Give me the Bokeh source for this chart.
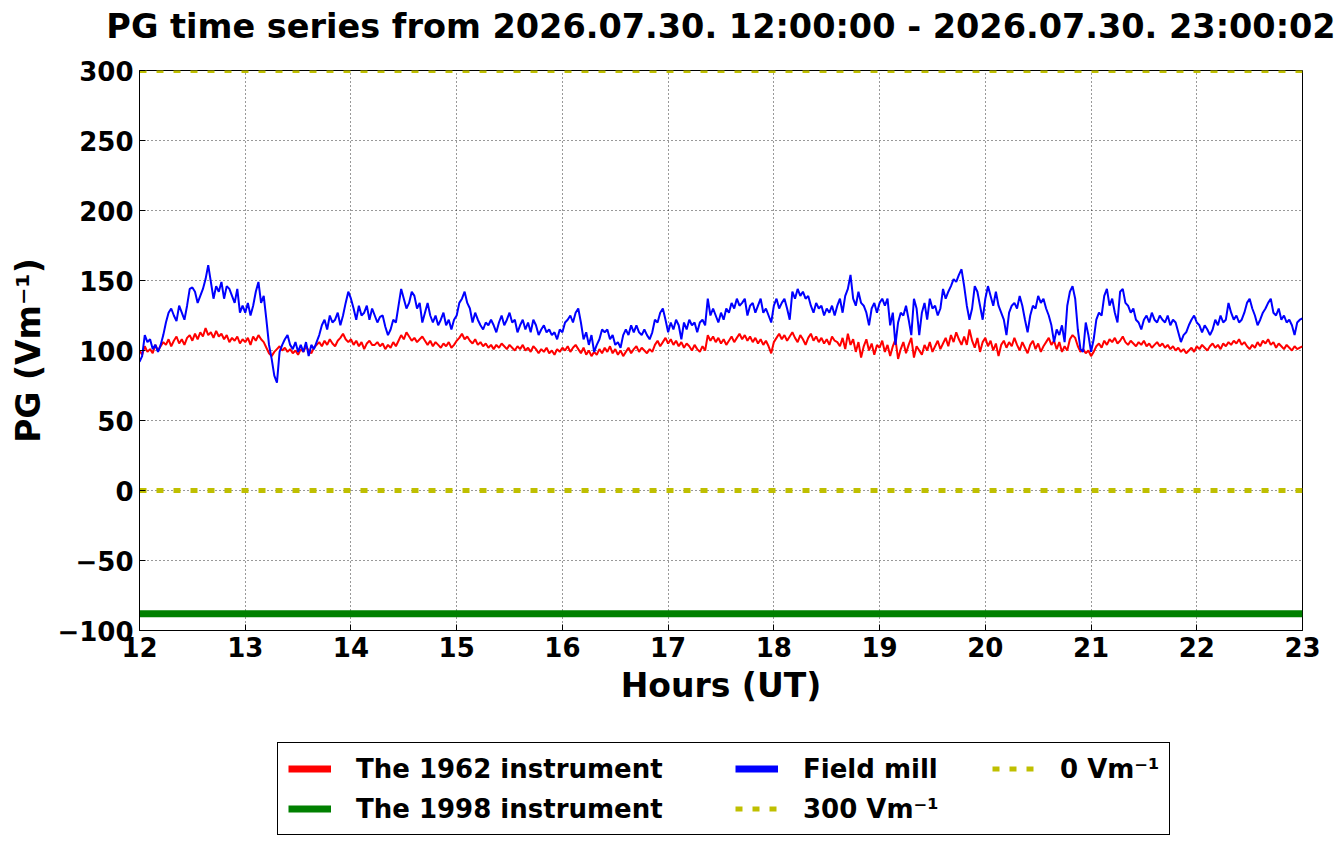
import numpy as np
from bokeh.plotting import figure
from bokeh.layouts import column
from bokeh.models import Legend, LegendItem, FixedTicker, Range1d
from bokeh.embed import file_html
from bokeh.resources import INLINE

# ---------------- data ----------------
T_START = 12.0          # hours UT
T_STEP = 0.025          # 1.5 minute sampling (hours)

pg_1962 = [
    100, 97, 103, 99, 101, 98, 104, 100, 103, 106, 104, 108, 103, 107, 110, 105, 108, 104, 109, 111,
    107, 112, 108, 113, 110, 116, 111, 113, 109, 114, 110, 112, 108, 111, 106, 109, 107, 110, 105, 108,
    106, 109, 104, 110, 107, 111, 108, 106, 102, 98, 96, 99, 101, 103, 100, 102, 99, 101, 98, 100,
    97, 101, 99, 103, 100, 98, 102, 104, 106, 103, 107, 104, 108, 105, 103, 107, 109, 112, 108, 106,
    108, 104, 107, 103, 106, 101, 105, 107, 104,
    104, 106, 103, 105, 101, 104, 102, 106, 103, 107, 111, 108, 113, 110, 107, 109, 106, 108,
    110, 107, 104, 107, 103, 106, 104, 102, 105, 103, 106, 102, 104, 107, 109, 112, 108, 110,
    107, 105, 108, 104, 106, 103, 105, 102, 104, 101, 104, 102, 105, 103, 101, 104, 102, 100,
    103, 101, 104, 100, 102, 99, 103, 101, 98, 101, 99, 102, 98, 100, 97, 101, 99, 102,
    100, 103, 99, 102, 104, 101, 98, 102, 97, 100, 96, 99, 97, 101, 98,
    102, 99, 103, 98, 101, 97, 100, 96, 99, 102, 98, 101, 103, 99, 102, 100,
    98, 101, 99, 104, 107, 103, 106, 109, 105, 108, 104, 107, 103, 106, 102, 105,
    103, 100, 104, 101, 99, 103, 100, 111, 107, 110, 106, 109, 105, 108, 104, 107,
    110, 106, 109, 112, 108, 111, 107, 110, 106, 109, 105, 108, 104, 107, 103, 98,
    106, 109, 112, 108, 111, 107, 110, 113, 109, 106, 111, 108, 104, 109, 112, 107,
    110, 106, 109, 105, 108, 104, 110, 107,
    106, 103, 109, 101, 112, 104, 108, 99, 106, 95, 103, 108, 100, 105, 97, 104,
    102, 107, 99, 104, 96, 103, 108, 94, 101, 106, 98, 104, 109, 95, 103, 100,
    97, 104, 100, 106, 99, 103, 107, 101, 105, 109, 103, 111, 106, 113, 108, 104,
    110, 104, 115, 107, 102, 109, 99, 106, 109, 103, 107, 100, 105, 96, 104, 107,
    102, 106, 103, 109, 104, 100, 106, 102, 98, 104, 107, 101, 105, 99, 103, 106,
    109, 104, 107, 101, 106, 99, 103, 100,
    108, 111, 109, 103, 99, 101, 98, 100, 96, 99, 103, 105, 102, 107, 104, 108,
    106, 109, 105, 107, 110, 106, 104, 107, 105, 103, 106, 104, 107, 103, 105, 102,
    104, 106, 103, 105, 102, 104, 101, 103, 100, 102, 99, 101, 98, 100, 102, 99,
    103, 101, 104, 102, 100, 103, 105, 102, 104, 101, 105, 103, 106, 104, 107, 105,
    108, 104, 106, 103, 101, 104, 102, 106, 103, 107, 105, 108, 104, 106, 102, 105,
    103, 101, 104, 102, 100, 103, 101, 102, 103,
]

field_mill = [
    92, 96, 111, 106, 108, 101, 104, 99, 104, 111, 120, 127, 130, 125, 121, 132, 127, 122, 132, 144,
    145, 142, 134, 139, 144, 151, 161, 149, 137, 146, 142, 149, 137, 146, 144, 139, 134, 144, 127, 132,
    127, 134, 125, 132, 142, 149, 134, 139, 122, 104, 94, 82, 77, 99, 104, 108, 111, 104, 101, 106,
    99, 104, 99, 106, 96, 104, 101, 106, 111, 118, 122, 115, 125, 120, 122, 127, 118, 125, 134, 142,
    137, 130, 122, 132, 125, 127, 132, 122, 130,
    125, 120, 124, 125, 117, 111, 115, 122, 120, 132, 144, 137, 130, 134, 142, 139, 130, 134, 120, 127,
    134, 125, 120, 125, 118, 122, 127, 118, 122, 115, 122, 125, 134, 137, 142, 134, 130, 120, 127, 122,
    118, 115, 120, 118, 122, 118, 113, 120, 125, 118, 122, 127, 120, 122, 113, 118, 122, 115, 120, 113,
    122, 118, 111, 115, 118, 113, 115, 111, 113, 108, 115, 113, 120, 122, 125, 120, 127, 130, 120, 108,
    113, 104, 111, 99, 104, 108, 115,
    113, 115, 108, 111, 104, 106, 102, 111, 115, 111, 118, 113, 118, 113, 111, 115, 111, 108, 113, 122,
    120, 127, 130, 122, 113, 120, 115, 122, 118, 108, 120, 115, 122, 118, 120, 113, 120, 122, 118, 137,
    125, 130, 125, 120, 127, 122, 130, 127, 134, 130, 137, 132, 134, 137, 125, 132, 134, 127, 132, 137,
    127, 130, 125, 120, 132, 137, 130, 134, 137, 130, 122, 142, 137, 144, 139, 142, 137, 139, 132, 127,
    134, 130, 132, 125, 130, 127, 132, 125,
    132, 137, 127, 139, 144, 154, 137, 132, 142, 134, 132, 127, 118, 130, 134, 127, 134, 137, 132, 137,
    118, 127, 104, 120, 127, 125, 132, 122, 111, 137, 130, 111, 127, 134, 122, 137, 130, 132, 125, 130,
    144, 137, 142, 146, 151, 149, 154, 158, 146, 132, 122, 130, 146, 142, 132, 122, 137, 146, 139, 132,
    142, 132, 127, 122, 111, 127, 132, 134, 130, 139, 132, 122, 113, 125, 132, 130, 139, 134, 137, 130,
    125, 118, 106, 115, 111, 118, 106, 132,
    142, 146, 137, 115, 101, 99, 120, 111, 99, 108, 122, 127, 125, 139, 144, 132, 137, 127, 120, 142,
    144, 134, 132, 127, 130, 122, 120, 115, 122, 125, 120, 127, 122, 120, 125, 122, 120, 125, 118, 122,
    120, 113, 106, 111, 113, 118, 122, 125, 120, 118, 113, 118, 115, 111, 115, 122, 118, 125, 120, 122,
    134, 127, 122, 125, 120, 122, 127, 134, 137, 130, 125, 118, 122, 127, 130, 134, 137, 127, 125, 130,
    122, 125, 120, 122, 118, 111, 120, 122, 123,
]

level_1998 = -88          # constant value of the 1998 instrument
ref_300 = 300
ref_0 = 0
x_range_hours = [12, 23]
x_ticks = [12, 13, 14, 15, 16, 17, 18, 19, 20, 21, 22, 23]
y_ticks = [-100, -50, 0, 50, 100, 150, 200, 250, 300]

title_text = "PG time series from 2026.07.30. 12:00:00 - 2026.07.30. 23:00:02"
legend_labels = ["The 1962 instrument", "The 1998 instrument", "Field mill",
                 "300 Vm⁻¹", "0 Vm⁻¹"]

FONT = "DejaVu Sans"
RED, GREEN, BLUE, YELLOW = "#ff0000", "#008000", "#0000ff", "#bfbf00"
NBSP = "\u00a0"
W = 1340
hours_1962 = T_START + T_STEP * np.arange(len(pg_1962))
hours_mill = T_START + T_STEP * np.arange(len(field_mill))

# ---------------- title strip ----------------
tf = figure(width=W, height=50, x_range=Range1d(0, 1), y_range=Range1d(0, 1),
            output_backend="svg", toolbar_location=None,
            x_axis_location=None, y_axis_location=None,
            min_border_left=139, min_border_right=W - 139 - 1163,
            min_border_top=0, min_border_bottom=0,
            background_fill_color="white", border_fill_color="white")
tf.outline_line_color = None
tf.xgrid.visible = False
tf.ygrid.visible = False
tf.title.text = title_text
tf.title.text_font = FONT
tf.title.text_font_size = "33.5px"
tf.title.text_font_style = "bold"
tf.title.text_color = "black"
tf.title.align = "center"
tf.title.vertical_align = "bottom"
tf.title.standoff = 10

# ---------------- main figure ----------------
p = figure(width=W, height=690,
           x_range=Range1d(x_range_hours[0], x_range_hours[1]),
           y_range=Range1d(-100, 300),
           output_backend="svg", toolbar_location=None,
           min_border_left=139, min_border_right=W - 139 - 1163,
           min_border_top=20, min_border_bottom=110,
           background_fill_color="white", border_fill_color="white")

p.outline_line_color = "black"
p.outline_line_width = 1
p.outline_line_alpha = 1

for ax in (p.xaxis[0], p.yaxis[0]):
    ax.major_label_text_font = FONT
    ax.major_label_text_font_size = "26px"
    ax.major_label_text_font_style = "bold"
    ax.major_label_text_color = "black"
    ax.axis_label_text_font = FONT
    ax.axis_label_text_font_size = "33px"
    ax.axis_label_text_font_style = "bold"
    ax.axis_label_text_color = "black"
    ax.major_tick_in = 6
    ax.major_tick_out = 0
    ax.minor_tick_line_color = None
    ax.major_tick_line_color = "black"
    ax.axis_line_color = "black"
    ax.major_label_standoff = 6
    ax.axis_label_standoff = 6

p.xaxis.ticker = FixedTicker(ticks=x_ticks)
p.yaxis.ticker = FixedTicker(ticks=y_ticks)
p.xaxis.axis_label = "Hours (UT)"
p.yaxis.axis_label = "PG (Vm⁻¹)"
p.yaxis.major_label_overrides = {-50: "−50", -100: "−100"}

for g in (p.xgrid, p.ygrid):
    g.grid_line_color = "black"
    g.grid_line_dash = "1 3"
    g.grid_line_width = 1
    g.grid_line_alpha = 0.8

p.line(hours_1962, pg_1962, line_color=RED, line_width=2)
p.line(x_range_hours, [level_1998, level_1998], line_color=GREEN, line_width=7)
p.line(hours_mill, field_mill, line_color=BLUE, line_width=2)
p.line(x_range_hours, [ref_300, ref_300], line_color=YELLOW, line_width=5, line_dash="7 10")
p.line(x_range_hours, [ref_0, ref_0], line_color=YELLOW, line_width=5, line_dash="7 10")

# ---------------- legend strip below ----------------
lg = figure(width=W, height=100, x_range=Range1d(0, 1), y_range=Range1d(0, 1),
            output_backend="svg", toolbar_location=None,
            x_axis_location=None, y_axis_location=None,
            min_border_left=0, min_border_right=0, min_border_top=0, min_border_bottom=0,
            background_fill_color="white", border_fill_color="white")
lg.outline_line_color = None
lg.xgrid.visible = False
lg.ygrid.visible = False

nan2 = [np.nan, np.nan]   # swatch-only renderers: nothing is drawn in the strip
s_1962 = lg.line(nan2, nan2, line_color=RED, line_width=7)
s_1998 = lg.line(nan2, nan2, line_color=GREEN, line_width=7)
s_mill = lg.line(nan2, nan2, line_color=BLUE, line_width=7)
s_300 = lg.line(nan2, nan2, line_color=YELLOW, line_width=5, line_dash="7 10")
s_0 = lg.line(nan2, nan2, line_color=YELLOW, line_width=5, line_dash="7 10")

legend = Legend(items=[
    LegendItem(label=legend_labels[0] + NBSP * 7, renderers=[s_1962]),
    LegendItem(label=legend_labels[1], renderers=[s_1998]),
    LegendItem(label=legend_labels[2] + NBSP * 5, renderers=[s_mill]),
    LegendItem(label=legend_labels[3], renderers=[s_300]),
    LegendItem(label=legend_labels[4], renderers=[s_0]),
], location=(138, 5), orientation="vertical", nrows=2)
legend.label_text_font = FONT
legend.label_text_font_size = "26px"
legend.label_text_font_style = "bold"
legend.label_text_color = "black"
legend.label_standoff = 25
legend.glyph_width = 43
legend.glyph_height = 31
legend.label_height = 31
legend.spacing = 9
legend.padding = 10
legend.margin = 0
legend.border_line_color = "black"
legend.border_line_width = 1
legend.border_line_alpha = 1
legend.background_fill_color = "white"
legend.background_fill_alpha = 1
lg.add_layout(legend)

layout = column(tf, p, lg, spacing=0)
open("out.html", "w").write(file_html(layout, INLINE))
